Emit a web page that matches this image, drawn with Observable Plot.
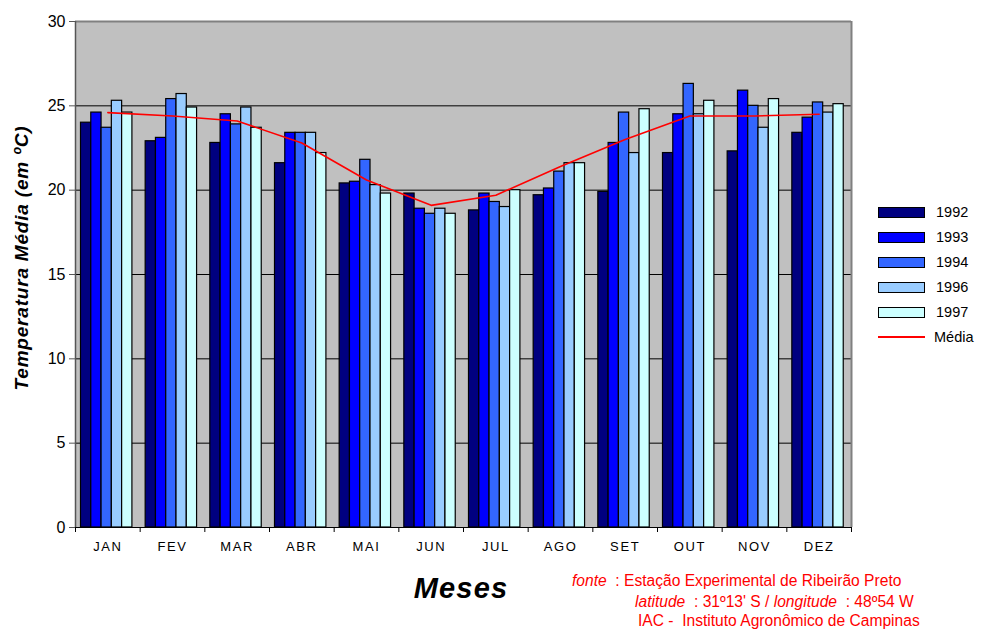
<!DOCTYPE html>
<html>
<head>
<meta charset="utf-8">
<script src="https://cdn.jsdelivr.net/npm/d3@7"></script>
<script src="https://cdn.jsdelivr.net/npm/@observablehq/plot@0.6"></script>
<style>
  html, body { margin: 0; padding: 0; background: #fff; }
  #wrap { position: relative; width: 984px; height: 630px; font-family: "Liberation Sans", Arial, sans-serif; }
  #chart svg g[aria-label="x-axis tick label"] { letter-spacing: 1.6px; }
  .abs { position: absolute; white-space: nowrap; }
  .legrow { position: absolute; left: 878px; height: 20px; display: flex; align-items: center; font-size: 14.5px; color: #000; }
  .sw { width: 45px; height: 9px; border: 1px solid #000; margin-right: 11px; }
  .ln { width: 47px; height: 1.5px; background: #ff0000; margin-right: 9px; }
  .foot { color: #ff0000; font-size: 15.6px; }
</style>
</head>
<body>
<div id="wrap">
  <div id="chart"></div>
</div>
<script>
const months = ["JAN","FEV","MAR","ABR","MAI","JUN","JUL","AGO","SET","OUT","NOV","DEZ"];
const years = ["1992","1993","1994","1996","1997"];
const colors = ["#000080","#0000ff","#3366ff","#99ccff","#ccffff"];
const t1992 = [24.0, 22.9, 22.8, 21.6, 20.4, 19.8, 18.8, 19.7, 19.9, 22.2, 22.3, 23.4];
const t1993 = [24.6, 23.1, 24.5, 23.4, 20.5, 18.9, 19.8, 20.1, 22.8, 24.5, 25.9, 24.3];
const t1994 = [23.7, 25.4, 23.9, 23.4, 21.8, 18.6, 19.3, 21.1, 24.6, 26.3, 25.0, 25.2];
const t1996 = [25.3, 25.7, 24.9, 23.4, 20.3, 18.9, 19.0, 21.6, 22.2, 24.5, 23.7, 24.6];
const t1997 = [24.6, 24.9, 23.7, 22.2, 19.8, 18.6, 20.0, 21.6, 24.8, 25.3, 25.4, 25.1];
const media = [24.6, 24.4, 24.1, 22.8, 20.6, 19.1, 19.7, 21.4, 23.0, 24.4, 24.4, 24.5];
const yTicks = [0, 5, 10, 15, 20, 25, 30];

const series = [t1992, t1993, t1994, t1996, t1997];
const table = [];
series.forEach((vals, s) => vals.forEach((v, m) => table.push({m, s, year: years[s], month: months[m], v})));
const mediaTable = media.map((v, m) => ({m, month: months[m], v}));

const off = 0.085, bw = 0.159;

const chart = Plot.plot({
  width: 984,
  height: 630,
  marginLeft: 75,
  marginRight: 133,
  marginTop: 21,
  marginBottom: 103,
  style: {fontFamily: "'Liberation Sans', Arial, sans-serif", background: "transparent", overflow: "visible"},
  x: {domain: [0, 12], axis: null},
  y: {domain: [0, 30], axis: null},
  color: {domain: years, range: colors},
  marks: [
    Plot.frame({fill: "#c0c0c0", stroke: null}),
    Plot.gridY({ticks: [5, 10, 15, 20, 25], stroke: "#000", strokeOpacity: 1, strokeWidth: 1}),
    Plot.rectY(table, {
      x1: d => d.m + off + d.s * bw,
      x2: d => d.m + off + (d.s + 1) * bw,
      y1: 0,
      y2: "v",
      fill: "year",
      stroke: "#000",
      strokeWidth: 1.2
    }),
    Plot.line(mediaTable, {x: d => d.m + 0.5, y: "v", stroke: "#ff0000", strokeWidth: 1.6}),
    Plot.ruleY([30], {stroke: "#808080", strokeWidth: 2}),
    Plot.ruleX([12], {stroke: "#808080", strokeWidth: 2}),
    Plot.ruleX([0], {stroke: "#555", strokeWidth: 1.5}),
    Plot.ruleY([0], {stroke: "#000", strokeWidth: 1.2}),
    Plot.axisY({ticks: yTicks, tickSize: 6, tickPadding: 4, fontSize: 16, label: null, stroke: "#555", color: "#000"}),
    Plot.axisX({ticks: d3.range(13), tickSize: 5, tickFormat: () => "", label: null, stroke: "#000"}),
    Plot.axisX({ticks: d3.range(12).map(i => i + 0.5), tickSize: 0, tickPadding: 14, tickFormat: t => months[Math.floor(t)], fontSize: 13, label: null, color: "#000"})
  ]
});
document.getElementById("chart").appendChild(chart);

const wrap = document.getElementById("wrap");
function add(html, css, cls) {
  const d = document.createElement("div");
  d.className = cls || "abs";
  d.innerHTML = html;
  Object.assign(d.style, css);
  wrap.appendChild(d);
  return d;
}
// y label
add("Temperatura Média (em ºC)", {left: "22px", top: "258px", transform: "translate(-50%,-50%) rotate(-90deg)", fontWeight: "bold", fontStyle: "italic", fontSize: "19px", letterSpacing: "0.8px"});
// x label
add("Meses", {left: "461px", top: "588px", transform: "translate(-50%,-50%)", fontWeight: "bold", fontStyle: "italic", fontSize: "29px", letterSpacing: "1.2px"});
// legend
const legendRows = years.map((y, i) => ({label: y, color: colors[i]}));
legendRows.forEach((r, i) => {
  add(`<div class="sw" style="background:${r.color}"></div><span>${r.label}</span>`, {top: (202 + i * 25) + "px"}, "legrow");
});
add(`<div class="ln"></div><span>Média</span>`, {top: (202 + 5 * 25) + "px"}, "legrow");
// footer
add("<i>fonte</i>&nbsp; : Estação Experimental de Ribeirão Preto", {left: "572px", top: "572px"}, "abs foot");
add("<i>latitude</i>&nbsp; : 31º13' S / <i>longitude</i>&nbsp; : 48º54 W", {left: "635px", top: "593px"}, "abs foot");
add("IAC -&nbsp; Instituto Agronômico de Campinas", {left: "638px", top: "612px"}, "abs foot");
</script>
</body>
</html>
